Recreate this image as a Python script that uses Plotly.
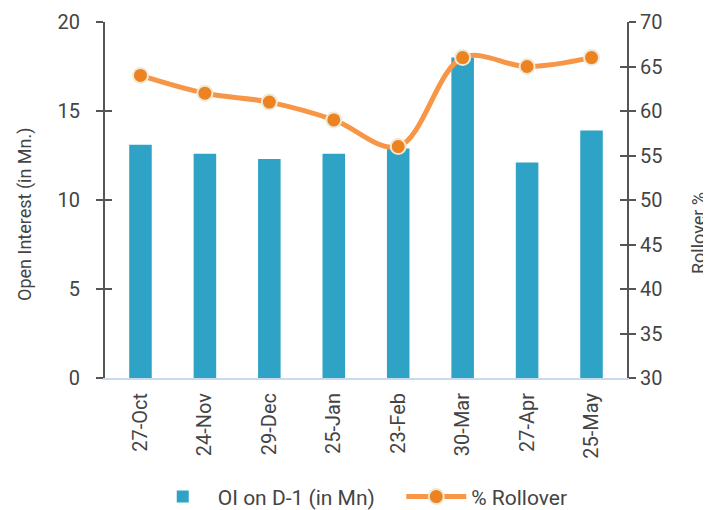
import plotly.graph_objects as go

categories = ["27-Oct", "24-Nov", "29-Dec", "25-Jan", "23-Feb", "30-Mar", "27-Apr", "25-May"]
oi_values = [13.1, 12.6, 12.3, 12.6, 12.9, 18.0, 12.1, 13.9]
rollover_values = [64, 62, 61, 59, 56, 66, 65, 66]
left_ticks = [0, 5, 10, 15, 20]
right_ticks = [30, 35, 40, 45, 50, 55, 60, 65, 70]

FONT = "Roboto"
TXT = "#444444"
AX = "#555555"
SP = "\u2002"

fig = go.Figure()
fig.add_trace(go.Bar(
    x=categories, y=oi_values, name="OI on D-1 (in Mn)" + SP + SP,
    marker=dict(color="#2fa3c5", line=dict(width=0)),
    width=0.35, yaxis="y",
))
fig.add_trace(go.Scatter(
    x=categories, y=rollover_values, name="% Rollover", yaxis="y2",
    mode="lines+markers",
    line=dict(color="#f79646", width=5, shape="spline", smoothing=1),
    marker=dict(color="#ec8220", size=15, line=dict(color="#efe9d6", width=2)),
))
# empty helper traces so the tick-only overlay axes are drawn
for ax in ["y3", "y4"]:
    fig.add_trace(go.Scatter(x=[], y=[], yaxis=ax, showlegend=False, hoverinfo="skip"))

axis_common = dict(showgrid=False, zeroline=False, automargin=False,
                   tickfont=dict(family=FONT, size=20, color=TXT))
tick_only = dict(showgrid=False, zeroline=False, showline=False, showticklabels=False,
                 automargin=False, tickwidth=2, tickcolor=AX, ticklen=7, anchor="x",
                 ticks="inside")

fig.update_layout(
    width=711, height=510,
    margin=dict(l=97, r=92, t=14, b=140, autoexpand=False),
    paper_bgcolor="white", plot_bgcolor="white",
    font=dict(family=FONT, color=TXT),
    showlegend=True,
    legend=dict(orientation="h", x=0.489, xanchor="center", y=-0.334, yanchor="middle",
                font=dict(family=FONT, size=21, color=TXT), traceorder="normal",
                itemwidth=60),
    xaxis=dict(
        type="category", showgrid=False, zeroline=False, automargin=False,
        showline=True, linecolor="#c9d9ee", linewidth=2,
        ticks="", tickangle=-90,
        tickfont=dict(family=FONT, size=20, color=TXT),
        ticklabelstandoff=5,
    ),
    yaxis=dict(
        range=[0, 20], tickvals=left_ticks, **axis_common,
        showline=True, linecolor=AX, linewidth=2,
        ticks="outside", ticklen=7, tickwidth=2, tickcolor=AX,
        ticklabelstandoff=12,
    ),
    yaxis3=dict(range=[0, 20], tickvals=left_ticks, overlaying="y", side="left", **tick_only),
    yaxis2=dict(
        range=[30, 70], tickvals=right_ticks, overlaying="y", side="right", anchor="x", **axis_common,
        showline=True, linecolor=AX, linewidth=2,
        ticks="outside", ticklen=7, tickwidth=2, tickcolor=AX,
        tickprefix=SP,
    ),
    yaxis4=dict(range=[30, 70], tickvals=right_ticks, overlaying="y", side="right", **tick_only),
    annotations=[
        dict(text="Open Interest (in Mn.)", xref="paper", yref="paper", x=0, y=0.458,
             xshift=-80, textangle=-90, showarrow=False, xanchor="center", yanchor="middle",
             font=dict(family=FONT, size=18, color=TXT)),
        dict(text="Rollover %", xref="paper", yref="paper", x=1, y=0.407,
             xshift=71, textangle=-90, showarrow=False, xanchor="center", yanchor="middle",
             font=dict(family=FONT, size=18, color=TXT)),
    ],
)

fig.write_html("out.html")
